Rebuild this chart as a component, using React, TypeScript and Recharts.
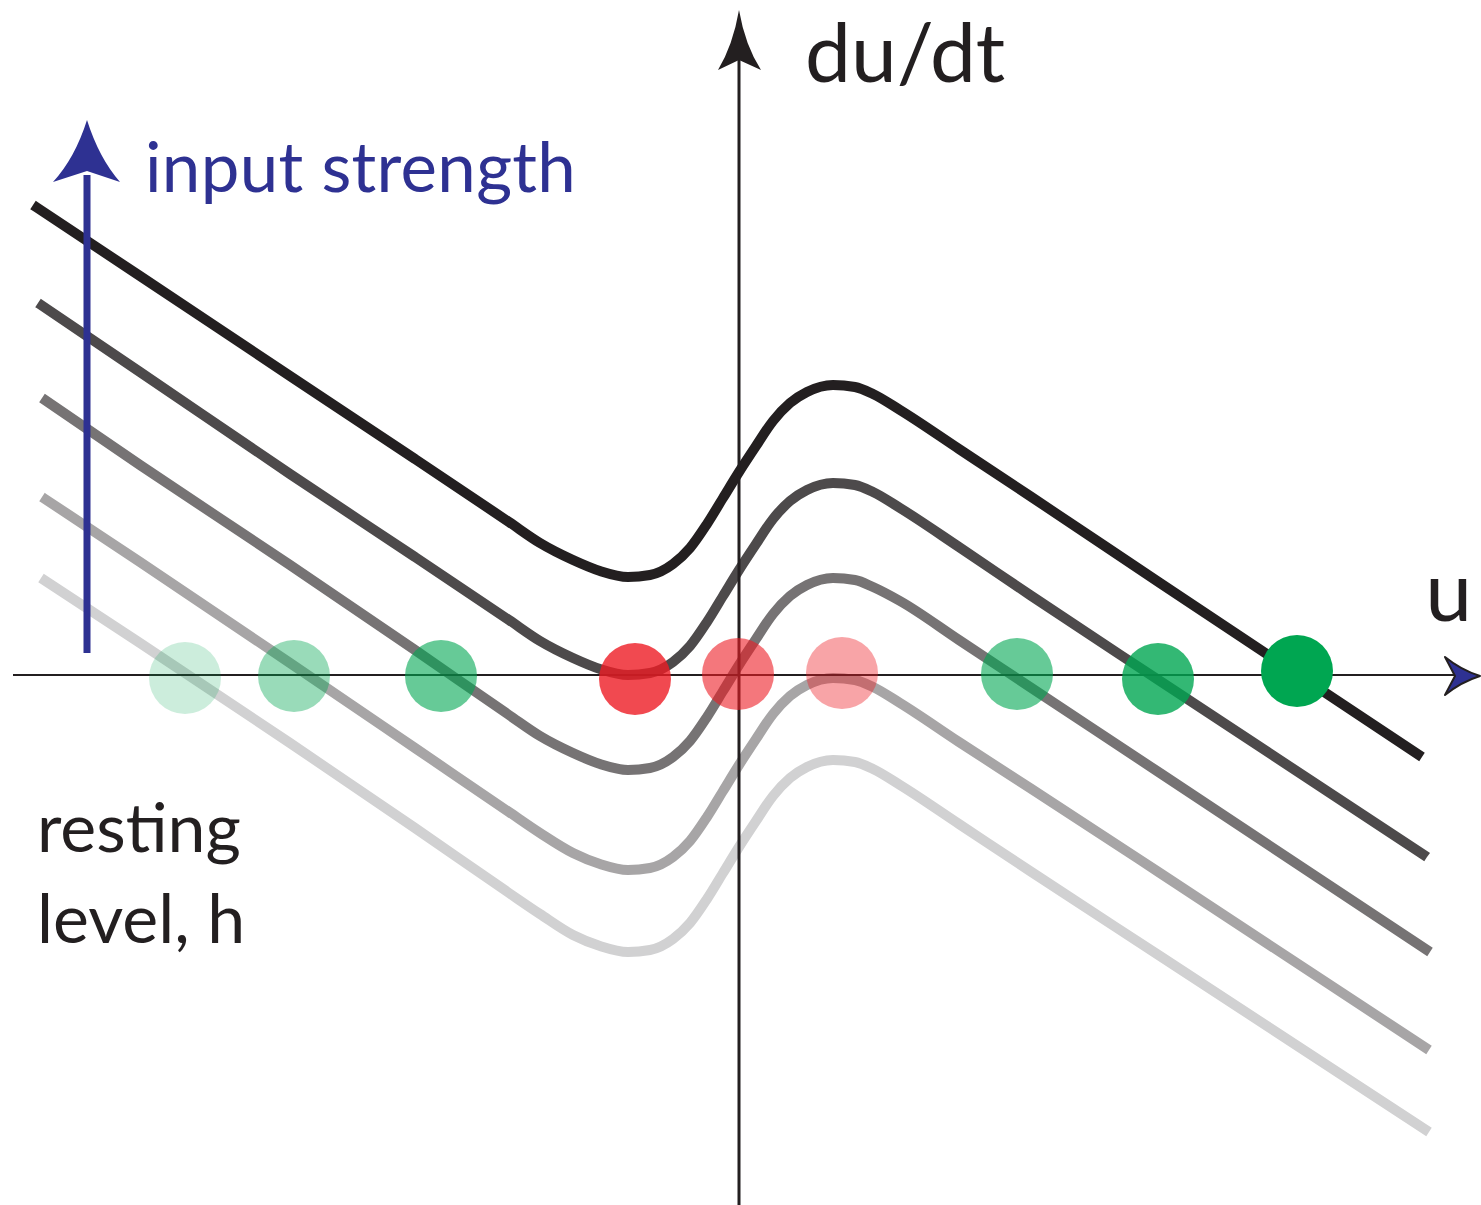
import {
  ComposedChart,
  Line,
  Scatter,
  XAxis,
  YAxis,
  ReferenceLine,
  ReferenceDot,
} from "recharts";

const WIDTH = 1481;
const HEIGHT = 1205;

// sample positions along u shared by the middle of every curve
const uMid = [
  -1.99, -1.66, -1.39, -1.11, -0.89, -0.66, -0.49, -0.32, -0.16, 0, 0.17,
  0.34, 0.51, 0.68, 0.94, 1.16, 1.34, 1.61,
];

// du/dt for each resting level, highest first: left tail, middle, right tail
const levelA = {
  left: [[-7.06, 4.7], [-5.99, 3.99], [-4.49, 2.99], [-3.24, 2.16], [-2.3, 1.53]],
  mid: [1.32, 1.15, 1.04, 0.98, 1.0, 1.11, 1.27, 1.51, 1.77, 2.03, 2.29, 2.54, 2.72, 2.83, 2.9, 2.88, 2.81, 2.65],
  right: [[2.2, 2.26], [2.91, 1.79], [4.21, 0.92], [6.83, -0.82]],
};
const levelB = {
  left: [[-7.01, 3.72], [-5.99, 3.03], [-4.49, 2.01], [-3.24, 1.18], [-2.3, 0.55]],
  mid: [0.34, 0.17, 0.06, 0.0, 0.02, 0.13, 0.29, 0.53, 0.79, 1.05, 1.31, 1.56, 1.74, 1.85, 1.92, 1.9, 1.83, 1.67],
  right: [[2.2, 1.28], [2.91, 0.8], [4.21, -0.06], [6.88, -1.82]],
};
const levelC = {
  left: [[-6.97, 2.77], [-5.99, 2.1], [-4.49, 1.1], [-3.24, 0.25], [-2.3, -0.4]],
  mid: [-0.61, -0.78, -0.89, -0.95, -0.93, -0.82, -0.66, -0.42, -0.16, 0.1, 0.36, 0.61, 0.79, 0.9, 0.97, 0.95, 0.88, 0.74],
  right: [[2.2, 0.35], [2.91, -0.12], [4.21, -0.98], [6.91, -2.77]],
};
const levelD = {
  left: [[-6.97, 1.78], [-5.99, 1.13], [-4.49, 0.12], [-3.24, -0.73], [-2.3, -1.37]],
  mid: [-1.58, -1.78, -1.89, -1.95, -1.93, -1.82, -1.66, -1.42, -1.16, -0.9, -0.64, -0.39, -0.21, -0.1, -0.03, -0.05, -0.12, -0.28],
  right: [[2.2, -0.67], [2.91, -1.13], [4.21, -1.98], [6.9, -3.75]],
};
const levelE = {
  left: [[-6.98, 0.97], [-5.99, 0.32], [-4.49, -0.68], [-3.24, -1.53], [-2.3, -2.18]],
  mid: [-2.39, -2.6, -2.71, -2.77, -2.75, -2.64, -2.48, -2.24, -1.98, -1.72, -1.46, -1.21, -1.03, -0.92, -0.85, -0.87, -0.94, -1.1],
  right: [[2.2, -1.49], [2.91, -1.96], [4.21, -2.81], [6.9, -4.57]],
};

const levels = [levelA, levelB, levelC, levelD, levelE];
const levelStroke = ["#231f20", "#4d4a4b", "#767374", "#a7a5a6", "#d1d1d2"];
const levelAlpha = [1, 0.8, 0.6, 0.4, 0.2];

// zero crossings of du/dt: attractors (green) and repellors (red)
const fixedPoints = [
  { u: 5.58, v: 0.04, level: 0, stable: true },
  { u: -1.04, v: -0.04, level: 1, stable: false },
  { u: 4.19, v: -0.04, level: 1, stable: true },
  { u: -2.98, v: -0.01, level: 2, stable: true },
  { u: -0.01, v: 0.01, level: 2, stable: false },
  { u: 2.78, v: 0.01, level: 2, stable: true },
  { u: -4.45, v: -0.01, level: 3, stable: true },
  { u: 1.03, v: 0.02, level: 3, stable: false },
  { u: -5.54, v: -0.03, level: 4, stable: true },
];

const FONT = "Lato, 'Open Sans', sans-serif";
const INK = "#231f20";
const BLUE = "#2e3192";

type Level = { left: number[][]; mid: number[]; right: number[][] };

const toRows = (lv: Level) => [
  ...lv.left.map(([u, v]) => ({ u, v })),
  ...lv.mid.map((v, i) => ({ u: uMid[i], v })),
  ...lv.right.map(([u, v]) => ({ u, v })),
];

const VerticalAxis = (p: any) => {
  const { x1, y1, x2, y2 } = p;
  return (
    <g>
      <line x1={x1} y1={y1} x2={x2} y2={y2 + 50} stroke={INK} strokeWidth={3} />
      <path
        d={`M${x2},${y2} Q${x2 - 6},${y2 + 35} ${x2 - 21},${y2 + 60} L${x2},${y2 + 50} L${x2 + 22},${y2 + 60} Q${x2 + 6},${y2 + 35} ${x2},${y2} Z`}
        fill={INK}
      />
      <text x={x2 + 66} y={y2 + 72} fontFamily={FONT} fontSize={82} fill={INK}>
        du/dt
      </text>
    </g>
  );
};

const HorizontalAxis = (p: any) => {
  const { x1, y1, x2, y2 } = p;
  return (
    <g>
      <line x1={x1} y1={y1} x2={x2 - 26} y2={y2} stroke={INK} strokeWidth={2} />
      <path
        d={`M${x2 - 1},${y2 + 1} Q${x2 - 20},${y2 - 5} ${x2 - 36},${y2 - 18} L${x2 - 26},${y2 + 1} L${x2 - 36},${y2 + 20} Q${x2 - 20},${y2 + 7} ${x2 - 1},${y2 + 1} Z`}
        fill={BLUE}
        stroke={INK}
        strokeWidth={2}
        strokeLinejoin="round"
      />
      <text x={x2 - 9} y={y2 - 54} textAnchor="end" fontFamily={FONT} fontSize={84} fill={INK}>
        u
      </text>
    </g>
  );
};

const InputArrow = (p: any) => {
  const { x1, y1, x2, y2 } = p;
  return (
    <g>
      <line x1={x1} y1={y1} x2={x2} y2={y2 + 55} stroke={BLUE} strokeWidth={7} />
      <path
        d={`M${x2},${y2} Q${x2 - 12},${y2 + 38} ${x2 - 34},${y2 + 62} L${x2},${y2 + 51} L${x2 + 33},${y2 + 62} Q${x2 + 12},${y2 + 38} ${x2},${y2} Z`}
        fill={BLUE}
      />
      <text
        x={x2 + 58}
        y={y2 + 72}
        fontFamily={FONT}
        fontSize={69}
        letterSpacing={0.3}
        fill={BLUE}
      >
        input strength
      </text>
    </g>
  );
};

const RestingLabel = (p: any) => (
  <text x={p.cx} y={p.cy} fontFamily={FONT} fontSize={68} fill={INK}>
    <tspan x={p.cx}>resting</tspan>
    <tspan x={p.cx} dy={91}>level, h</tspan>
  </text>
);

const FixedPointDot = (p: any) => {
  const { cx, cy, payload } = p;
  return (
    <circle
      cx={cx}
      cy={cy}
      r={36}
      fill={payload.stable ? "#00a651" : "#ed1c24"}
      fillOpacity={levelAlpha[payload.level]}
    />
  );
};

export default function App() {
  return (
    <div style={{ position: "absolute", left: 0, top: 0, background: "#fff" }}>
      <ComposedChart
        width={WIDTH}
        height={HEIGHT}
        margin={{ top: 0, right: 0, bottom: 0, left: 0 }}
      >
        <XAxis
          type="number"
          dataKey="u"
          domain={[-7.39, 7.42]}
          allowDataOverflow
          hide
        />
        <YAxis
          type="number"
          dataKey="v"
          domain={[-5.3, 6.75]}
          allowDataOverflow
          hide
        />

        {levels.map((lv, i) => (
          <Line
            key={i}
            data={toRows(lv)}
            dataKey="v"
            type="monotone"
            stroke={levelStroke[i]}
            strokeWidth={10}
            dot={false}
            activeDot={false}
            isAnimationActive={false}
            zIndex={400}
          />
        ))}

        <ReferenceLine
          segment={[{ x: 0, y: -5.3 }, { x: 0, y: 6.65 }]}
          ifOverflow="visible"
          shape={VerticalAxis}
          zIndex={450}
        />
        <ReferenceLine
          segment={[{ x: -7.26, y: 0 }, { x: 7.42, y: 0 }]}
          ifOverflow="visible"
          shape={HorizontalAxis}
          zIndex={450}
        />
        <ReferenceLine
          segment={[{ x: -6.52, y: 0.22 }, { x: -6.52, y: 5.55 }]}
          ifOverflow="visible"
          shape={InputArrow}
          zIndex={460}
        />
        <ReferenceDot
          x={-7.02}
          y={-1.77}
          r={0}
          ifOverflow="visible"
          shape={RestingLabel}
          zIndex={460}
        />

        <Scatter
          data={fixedPoints}
          dataKey="v"
          shape={FixedPointDot}
          isAnimationActive={false}
          zIndex={600}
        />
      </ComposedChart>
    </div>
  );
}
